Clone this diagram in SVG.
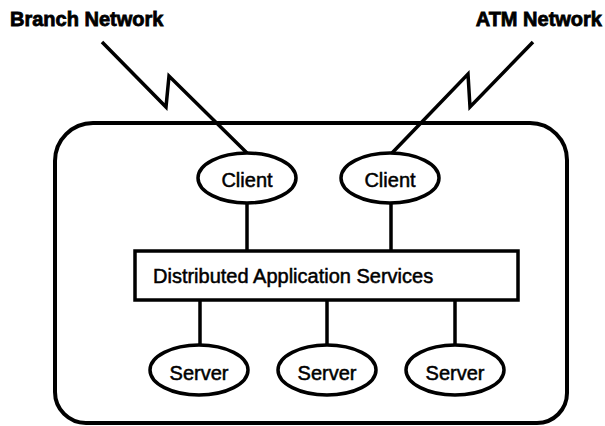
<svg xmlns="http://www.w3.org/2000/svg" width="605" height="426" viewBox="0 0 605 426">
<style>
.ln{fill:none;stroke:#000;stroke-width:3.5;stroke-linejoin:miter}
.nd{fill:#fff;stroke:#000;stroke-width:3.5}
.t{font-family:"Liberation Sans",Arial,sans-serif;font-size:20px;fill:#000;stroke:#000;stroke-width:0.5}
.b{font-weight:bold;stroke-width:0.8}
</style>
<rect width="605" height="426" fill="#fff"/>
<g id="container">
<path d="M55,161 A38,38 0 0 1 93,123 L530,123 A37,37 0 0 1 567,160 L567,393 A30,30 0 0 1 537,423 L86,423 A31,31 0 0 1 55,392 Z" fill="none" stroke="#000" stroke-width="4"/>
</g>
<g id="connectors">
<polyline class="ln" points="102,42 166,107 169,76 247,153"/>
<polyline class="ln" points="533,42 470,107 468,74 392,153"/>
<line class="ln" x1="247" y1="202" x2="247" y2="251"/>
<line class="ln" x1="391" y1="202" x2="391" y2="251"/>
<line class="ln" x1="200" y1="300" x2="200" y2="345"/>
<line class="ln" x1="327" y1="300" x2="327" y2="345"/>
<line class="ln" x1="455" y1="300" x2="455" y2="345"/>
</g>
<g id="branch-network">
<text class="t b" x="10" y="26">Branch Network</text>
</g>
<g id="atm-network">
<text class="t b" x="602" y="26" text-anchor="end">ATM Network</text>
</g>
<g id="client1">
<ellipse class="nd" cx="247" cy="178" rx="49" ry="25"/>
<text class="t" x="247" y="187" text-anchor="middle">Client</text>
</g>
<g id="client2">
<ellipse class="nd" cx="390" cy="178" rx="49" ry="25"/>
<text class="t" x="390" y="187" text-anchor="middle">Client</text>
</g>
<g id="das">
<rect class="nd" x="135" y="251" width="383" height="49"/>
<text class="t" x="153" y="283">Distributed Application Services</text>
</g>
<g id="server1">
<ellipse class="nd" cx="199" cy="370" rx="49" ry="25"/>
<text class="t" x="199" y="380" text-anchor="middle">Server</text>
</g>
<g id="server2">
<ellipse class="nd" cx="327" cy="370" rx="49" ry="25"/>
<text class="t" x="327" y="380" text-anchor="middle">Server</text>
</g>
<g id="server3">
<ellipse class="nd" cx="455" cy="370" rx="49" ry="25"/>
<text class="t" x="455" y="380" text-anchor="middle">Server</text>
</g>
</svg>
